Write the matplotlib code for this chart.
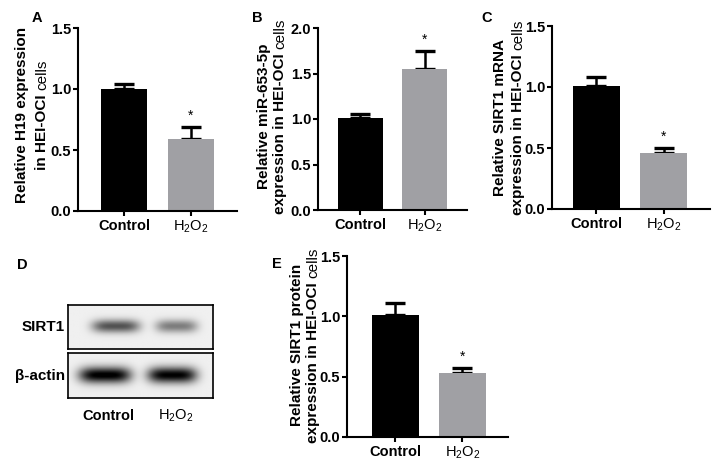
import numpy as np
import matplotlib
matplotlib.use("Agg")
import matplotlib.pyplot as plt

plt.rcParams['font.family'] = ['Liberation Sans', 'DejaVu Sans']
plt.rcParams['mathtext.fontset'] = 'custom'
plt.rcParams['mathtext.rm'] = 'Liberation Sans'
plt.rcParams['mathtext.it'] = 'Liberation Sans:italic'
plt.rcParams['mathtext.bf'] = 'Liberation Sans:bold'

# data
groups = ["Control", "H$_2$O$_2$"]

h19_mean = [1.00, 0.59]
h19_sem = [0.04, 0.10]

mir_mean = [1.01, 1.55]
mir_sem = [0.045, 0.20]

sirt1_mrna_mean = [1.01, 0.46]
sirt1_mrna_sem = [0.07, 0.04]

sirt1_prot_mean = [1.01, 0.53]
sirt1_prot_sem = [0.10, 0.04]

# western blot band strength (0 = none, 1 = black)
blot_sirt1 = [0.62, 0.45]
blot_actin = [0.97, 0.95]

W, H = 720, 468
fig = plt.figure(figsize=(7.2, 4.68), dpi=100)
renderer = fig.canvas.get_renderer()

bar_colors = ["#000000", "#a0a0a4"]


def px_axes(l, t, r, b):
    return fig.add_axes([l / W, 1 - b / H, (r - l) / W, (b - t) / H])


def bar_panel(rect, xlim, mean, sem, ymax):
    ax = px_axes(*rect)
    x = np.arange(len(mean))
    ax.bar(x, mean, width=0.7, color=bar_colors, zorder=2)
    ax.errorbar(x, mean, yerr=[np.zeros(len(sem)), sem], fmt='none', ecolor='black',
                elinewidth=1.8, capsize=7, capthick=2.4, zorder=1)
    ax.annotate("*", (1, mean[1] + sem[1]), xytext=(0, 3), textcoords='offset points',
                ha='center', va='bottom', fontsize=10)
    ax.set_xlim(*xlim)
    ax.set_ylim(0, ymax)
    ticks = np.arange(0, ymax + 0.01, 0.5)
    ax.set_yticks(ticks)
    ax.set_yticklabels([f"{v:.1f}" for v in ticks], fontweight='bold', fontsize=10.5)
    ax.set_xticks(x)
    ax.set_xticklabels(groups, fontsize=10.5)
    ax.get_xticklabels()[0].set_fontweight('bold')
    for s in ['top', 'right']:
        ax.spines[s].set_visible(False)
    for s in ['left', 'bottom']:
        ax.spines[s].set_linewidth(1.5)
    ax.tick_params(width=1.5, length=3.5)
    ax.tick_params(axis='y', pad=1.5)
    ax.tick_params(axis='x', pad=2)
    return ax


def ylabel(x1, x2, yc, line1, line2_bold, line2_reg, size=11):
    fig.text(x1 / W, 1 - yc / H, line1, rotation=90, ha='center', va='center',
             fontsize=size, fontweight='bold')
    tb = fig.text(x2 / W, 0, line2_bold, rotation=90, ha='center', va='bottom',
                  fontsize=size, fontweight='bold')
    tr = fig.text(x2 / W, 0, line2_reg, rotation=90, ha='center', va='bottom',
                  fontsize=size)
    lb = tb.get_window_extent(renderer).height
    lr = tr.get_window_extent(renderer).height
    gap = 4
    y0 = (H - yc) - (lb + gap + lr) / 2
    tb.set_y(y0 / H)
    tr.set_y((y0 + lb + gap) / H)


def letter(x, y, s):
    fig.text(x / W, 1 - y / H, s, ha='center', va='center', fontsize=10.5, fontweight='bold')


# A
bar_panel((78, 28, 237, 211), (-0.69, 1.69), h19_mean, h19_sem, 1.5)
ylabel(22, 42, 115, "Relative H19 expression", "in HEI-OCI", "cells")
letter(37, 18, "A")

# B
bar_panel((318, 28, 467, 210), (-0.66, 1.66), mir_mean, mir_sem, 2.0)
ylabel(264, 280, 116, "Relative miR-653-5p", "expression in HEI-OCI", "cells")
letter(257, 18, "B")

# C
bar_panel((552, 26, 710, 209), (-0.66, 1.69), sirt1_mrna_mean, sirt1_mrna_sem, 1.5)
ylabel(500, 518, 117, "Relative SIRT1 mRNA", "expression in HEI-OCI", "cells")
letter(487, 18, "C")

# E
bar_panel((347, 256, 508, 437), (-0.72, 1.68), sirt1_prot_mean, sirt1_prot_sem, 1.5)
ylabel(297, 313, 345, "Relative SIRT1 protein", "expression in HEI-OCI", "cells")
letter(277, 264, "E")

# D - western blot
letter(22, 265, "D")


def blot_strip(rect, strength, centers, half_w, cy, wy):
    ax = px_axes(*rect)
    ny, nx = 60, 200
    yy, xx = np.mgrid[0:1:ny * 1j, 0:1:nx * 1j]
    img = np.full((ny, nx), 0.94)
    for s, cx, hw in zip(strength, centers, half_w):
        img -= s * np.exp(-((xx - cx) / hw) ** 4) * np.exp(-((yy - cy) / wy) ** 2)
    ax.imshow(np.clip(img, 0, 1), cmap='gray', vmin=0, vmax=1, aspect='auto',
              extent=(0, 1, 1, 0), interpolation='bilinear')
    ax.set_xticks([])
    ax.set_yticks([])
    for s in ax.spines.values():
        s.set_linewidth(1.2)
    return ax


blot_strip((68, 305, 213, 349), blot_sirt1, [0.33, 0.75], [0.165, 0.145], 0.48, 0.15)
blot_strip((68, 353, 213, 398), blot_actin, [0.255, 0.72], [0.18, 0.17], 0.49, 0.18)

fig.text(65 / W, 1 - 327 / H, "SIRT1", ha='right', va='center', fontsize=11, fontweight='bold')
fig.text(65 / W, 1 - 376 / H, "β-actin", ha='right', va='center', fontsize=11, fontweight='bold')
fig.text(108 / W, 1 - 416 / H, "Control", ha='center', va='center', fontsize=10.5, fontweight='bold')
fig.text(176 / W, 1 - 416 / H, "H$_2$O$_2$", ha='center', va='center', fontsize=10.5)

fig.savefig("out.png", dpi=100)
